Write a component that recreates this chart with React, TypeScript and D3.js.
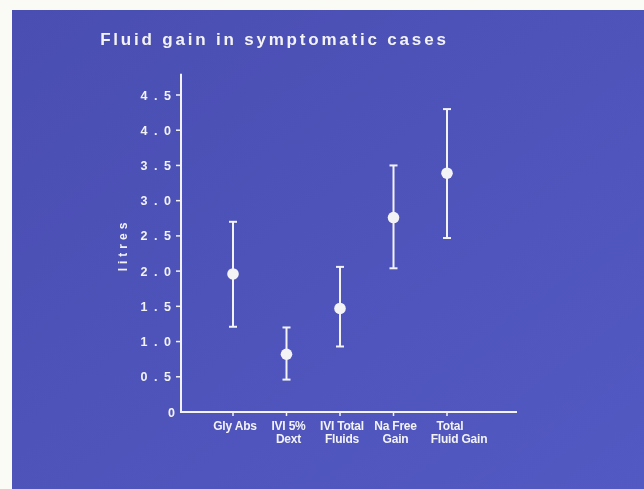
import React from 'react';
import * as d3 from 'd3';

const categories: string[][] = [["Gly Abs"], ["IVI 5%", "Dext"], ["IVI Total", "Fluids"], ["Na Free", "Gain"], ["Total", "Fluid Gain"]];
const means = [1.96, 0.82, 1.47, 2.76, 3.39];
const upper = [2.70, 1.20, 2.06, 3.50, 4.30];
const lower = [1.21, 0.46, 0.93, 2.04, 2.47];
const yTicks = [0, 0.5, 1, 1.5, 2, 2.5, 3, 3.5, 4, 4.5];
const title = "Fluid gain in symptomatic cases";
const yLabel = "litres";

export default function App() {
  const W = 644, H = 489;
  const keys = categories.map((c) => c.join(" "));
  const x = d3.scalePoint<string>().domain(keys).range([233, 447]);
  const y = d3.scaleLinear().domain([0, 4.5]).range([412, 95]);
  const axisX0 = 181, axisX1 = 517, axisTop = y(4.8);
  const white = "#f3f3f6";
  const fmt = (d: number) => (d === 0 ? "0" : d3.format(".1f")(d));
  const sans = "'Liberation Sans', Arial, sans-serif";
  const narrow = "'Liberation Sans Narrow', 'Arial Narrow', 'Liberation Sans', sans-serif";
  const tickLs = 6.5;
  return (
    <svg width={W} height={H} style={{ position: 'fixed', left: 0, top: 0, display: 'block' }}>
      <defs>
        <linearGradient id="bg" x1="0" y1="0" x2="1" y2="1">
          <stop offset="0" stopColor="#4a4eb2" />
          <stop offset="1" stopColor="#5259c2" />
        </linearGradient>
        <filter id="soft" x="-5%" y="-5%" width="110%" height="110%">
          <feGaussianBlur stdDeviation="0.45" />
        </filter>
      </defs>
      <rect x={0} y={0} width={W} height={H} fill="#fbfbf6" />
      <rect x={12} y={10} width={W - 12} height={H - 10} fill="url(#bg)" />
      <g filter="url(#soft)">
        <text x={273 + 1.4} y={45} textAnchor="middle" fill={white} fontFamily={sans} fontWeight="bold" fontSize={17} letterSpacing={2.8}>{title}</text>
        <text transform={`translate(127,245) rotate(-90)`} textAnchor="middle" fill={white} fontFamily={sans} fontWeight="bold" fontSize={12} letterSpacing={4}>{yLabel}</text>
        {/* axes */}
        <line x1={axisX0} x2={axisX0} y1={axisTop} y2={y(0)} stroke={white} strokeWidth={2} />
        <line x1={axisX0 - 1} x2={axisX1} y1={y(0)} y2={y(0)} stroke={white} strokeWidth={2} />
        {yTicks.map((t) => (
          <g key={t}>
            {t > 0 && <line x1={axisX0 - 5} x2={axisX0} y1={y(t)} y2={y(t)} stroke={white} strokeWidth={1.5} />}
            <text x={t === 0 ? 175 : 171 + tickLs} y={y(t)} dy="0.36em" textAnchor="end" fill={white} fontFamily={sans} fontWeight="bold" fontSize={12.5} letterSpacing={t === 0 ? 0 : tickLs}>{fmt(t)}</text>
          </g>
        ))}
        {keys.map((k, i) => (
          <g key={k}>
            <line x1={x(k)} x2={x(k)} y1={y(0)} y2={y(0) + 4} stroke={white} strokeWidth={1.5} />
            {categories[i].map((line, j) => (
              <text key={j} x={x(k)! + (i === 4 && j === 1 ? 12 : i === 4 ? 3 : 2)} y={430 + j * 12.5} textAnchor="middle" fill={white} fontFamily={narrow} fontWeight="bold" fontSize={12} letterSpacing={-0.2}>{line}</text>
            ))}
            <line x1={x(k)} x2={x(k)} y1={y(upper[i])} y2={y(lower[i])} stroke={white} strokeWidth={2} />
            <line x1={x(k)! - 4} x2={x(k)! + 4} y1={y(upper[i])} y2={y(upper[i])} stroke={white} strokeWidth={2} />
            <line x1={x(k)! - 4} x2={x(k)! + 4} y1={y(lower[i])} y2={y(lower[i])} stroke={white} strokeWidth={2} />
            <circle cx={x(k)} cy={y(means[i])} r={5.8} fill={white} />
          </g>
        ))}
      </g>
    </svg>
  );
}
